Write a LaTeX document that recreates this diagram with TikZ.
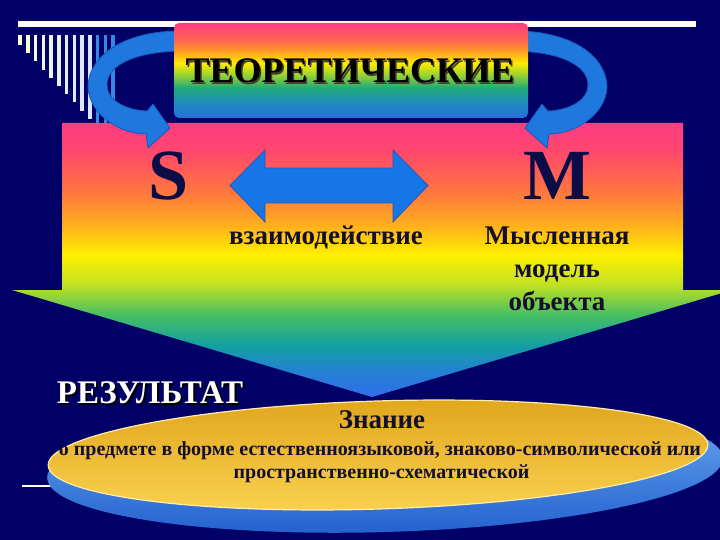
\documentclass[tikz,border=0pt]{standalone}
\usepackage{fontspec}
\setmainfont{Liberation Serif}
\definecolor{bg}{RGB}{0,0,102}
\definecolor{ink}{RGB}{20,15,45}
\definecolor{letterink}{RGB}{12,12,70}
\definecolor{arrowblue}{RGB}{30,120,222}
\definecolor{arrowedge}{RGB}{22,88,185}
\definecolor{dblblue}{RGB}{22,118,232}
\definecolor{dbledge}{RGB}{45,85,170}
\definecolor{barA}{RGB}{255,255,205}
\definecolor{barB}{RGB}{215,225,255}
\definecolor{barC}{RGB}{55,135,230}
\definecolor{goldtop}{RGB}{224,165,28}
\definecolor{goldbot}{RGB}{250,210,80}
\definecolor{goldedge}{RGB}{255,236,170}
\definecolor{rimtop}{RGB}{110,175,245}
\definecolor{rimbot}{RGB}{35,95,205}
\pgfdeclareverticalshading{rainbowmain}{100bp}{rgb(0bp)=(0.196,0.431,0.922); rgb(25bp)=(0.196,0.431,0.922); rgb(29.9bp)=(0.137,0.51,0.824); rgb(34.5bp)=(0.078,0.627,0.627); rgb(40bp)=(0.275,0.745,0.392); rgb(45.4bp)=(0.745,0.882,0.137); rgb(50.9bp)=(1,0.941,0); rgb(56.4bp)=(1,0.686,0.118); rgb(62.8bp)=(1,0.451,0.255); rgb(70.1bp)=(1,0.275,0.431); rgb(75bp)=(1,0.235,0.51); rgb(100bp)=(1,0.235,0.51)}
\pgfdeclareverticalshading{rainbowbox}{100bp}{rgb(0bp)=(0.157,0.431,0.863); rgb(25bp)=(0.157,0.431,0.863); rgb(32.9bp)=(0.118,0.549,0.745); rgb(40.8bp)=(0.118,0.667,0.471); rgb(47.6bp)=(0.588,0.824,0.196); rgb(53.9bp)=(1,0.922,0); rgb(60.8bp)=(1,0.588,0.157); rgb(66bp)=(1,0.392,0.314); rgb(75bp)=(1,0.235,0.51); rgb(100bp)=(1,0.235,0.51)}
\begin{document}
\begin{tikzpicture}[x=1pt,y=-1pt,
  every node/.style={inner sep=0pt,outer sep=0pt},
  midtext/.style={font=\bfseries\fontsize{27}{30}\selectfont,text=ink,anchor=base},
  bigletter/.style={font=\bfseries\fontsize{72}{80}\selectfont,text=letterink,anchor=base},
  smalltext/.style={font=\bfseries\fontsize{20}{23}\selectfont,text=ink,anchor=base},
  curvedarrow/.style={fill=arrowblue,draw=arrowedge,line width=0.8pt,line join=round},
  dblarrow/.style={fill=dblblue,draw=dbledge,line width=0.8pt}]
\useasboundingbox (0,0) rectangle (720,540);
\fill[bg] (0,0) rectangle (720,540);
% decorative white line and bars
\fill[white] (18,21) rectangle (696,27);
\foreach \i in {0,...,9} {
  \pgfmathsetmacro\xl{18.3+7.75*\i}
  \pgfmathsetmacro\yb{45+8.2*\i}
  \pgfmathsetmacro\pp{100-10*\i}
  \fill[barA!\pp!barB] (\xl,35) rectangle (\xl+3.5,\yb);
}
\foreach \i in {10,11,12} {
  \pgfmathsetmacro\xl{18.3+7.75*\i}
  \pgfmathsetmacro\yb{45+8.2*\i}
  \fill[barC] (\xl,35) rectangle (\xl+3.5,\yb);
}
% thin white line at the bottom left
\draw[white,line width=1.5pt] (22,486) -- (300,486);
% big downward arrow
\path[shading=rainbowmain] (62,123) -- (683,123) -- (683,290) -- (732,290) -- (372,397) -- (12,290) -- (62,290) -- cycle;
% curved arrows
\path[curvedarrow] (180,31) .. controls (125,31) and (88,55) .. (88,88)
  .. controls (90,115) and (120,134) .. (146,134) -- (148,148) -- (170,128) -- (153,104) -- (147,111)
  .. controls (125,110) and (107,100) .. (107,85)
  .. controls (107,65) and (135,52) .. (180,51) -- cycle;
\begin{scope}[xshift=695pt,xscale=-1]
\path[curvedarrow] (180,31) .. controls (125,31) and (88,55) .. (88,88)
  .. controls (90,115) and (120,134) .. (146,134) -- (148,148) -- (170,128) -- (153,104) -- (147,111)
  .. controls (125,110) and (107,100) .. (107,85)
  .. controls (107,65) and (135,52) .. (180,51) -- cycle;
\end{scope}
% top box
\path[shading=rainbowbox,rounded corners=5pt] (174,23) rectangle (528,118);
\node[font=\bfseries\fontsize{36}{40}\selectfont,text=black!70!olive,anchor=base] (titleshadow) at (351.5,84.5) {ТЕОРЕТИЧЕСКИЕ};
\node[font=\bfseries\fontsize{36}{40}\selectfont,text=black,anchor=base] (title) at (350,83) {ТЕОРЕТИЧЕСКИЕ};
% S, M and double arrow
\node[bigletter] (S) at (169,200) {S};
\node[bigletter] (M) at (557,200) {M};
\path[dblarrow] (230,185.5) -- (265,150) -- (265,168) -- (393,168) -- (393,150) -- (428,185.5) -- (393,222) -- (393,203) -- (265,203) -- (265,222) -- cycle;
\node[midtext] (inter) at (326,244) {взаимодействие};
\node[midtext] (model1) at (557,244) {Мысленная};
\node[midtext] (model2) at (557,277) {модель};
\node[midtext] (model3) at (557,310) {объекта};
% result
\node[font=\bfseries\fontsize{33}{36}\selectfont,text=black,anchor=base] (resshadow) at (152,405) {РЕЗУЛЬТАТ};
\node[font=\bfseries\fontsize{33}{36}\selectfont,text=white,anchor=base] (result) at (150,403) {РЕЗУЛЬТАТ};
% disc
\path[top color=rimtop,bottom color=rimbot,rotate around={1.7:(385,468)}] (385,468) ellipse [x radius=338pt,y radius=64pt];
\path[top color=goldtop,bottom color=goldbot,draw=goldedge,line width=1.2pt,rotate around={1.8:(378,455)}] (378,455) ellipse [x radius=330pt,y radius=54pt];
\node[midtext] (know) at (382,428) {Знание};
\node[smalltext] (line1) at (380,455) {о предмете в форме естественноязыковой, знаково-символической или};
\node[smalltext] (line2) at (381.5,478) {пространственно-схематической};
\end{tikzpicture}
\end{document}
